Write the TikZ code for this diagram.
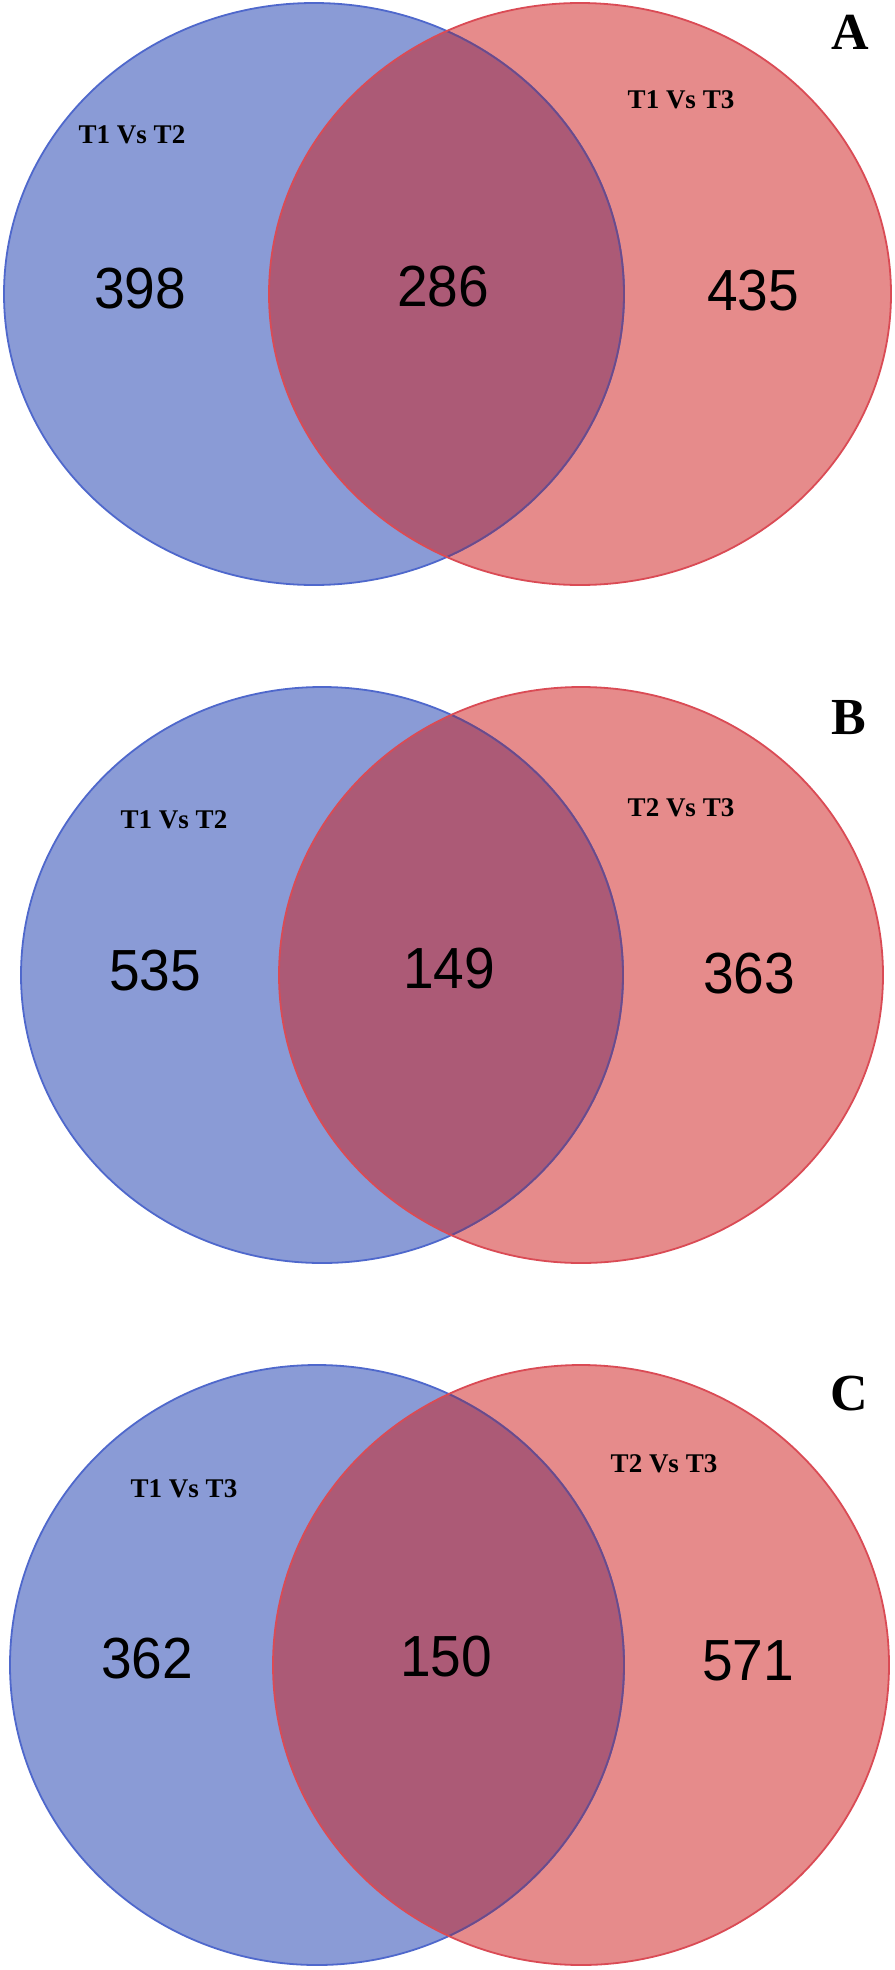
\documentclass[tikz,border=0pt]{standalone}
\usepackage{fontspec}
\setmainfont{Liberation Serif}
\newfontfamily\numfont[FakeStretch=0.95]{Liberation Sans}
\definecolor{bfill}{HTML}{8A9BD6}
\definecolor{rfill}{HTML}{E68B8B}
\definecolor{ifill}{HTML}{AC5A76}
\definecolor{bline}{HTML}{4F68CC}
\definecolor{rline}{HTML}{DA4B55}
\definecolor{iline}{HTML}{6E4A88}
\begin{document}
\begin{tikzpicture}[x=1pt,y=-1pt,
  num/.style={font=\numfont\fontsize{58}{58}\selectfont, inner sep=0pt},
  lab/.style={font=\bfseries\fontsize{27}{27}\selectfont, inner sep=0pt},
  panel/.style={font=\bfseries\fontsize{52}{52}\selectfont, inner sep=0pt},
  edge/.style={line width=1.8pt}]
\useasboundingbox (0,0) rectangle (894,1970);
\fill[white] (0,0) rectangle (894,1970);

% ---------- Panel A ----------
\fill[bfill] (314,294) ellipse [x radius=310pt, y radius=291pt];
\fill[rfill] (580,294) ellipse [x radius=311pt, y radius=291pt];
\begin{scope}
  \clip (314,294) ellipse [x radius=310pt, y radius=291pt];
  \fill[ifill] (580,294) ellipse [x radius=311pt, y radius=291pt];
\end{scope}
\draw[edge, bline] (314,294) ellipse [x radius=310pt, y radius=291pt];
\begin{scope}
  \clip (580,294) ellipse [x radius=311pt, y radius=291pt];
  \draw[edge, iline] (314,294) ellipse [x radius=310pt, y radius=291pt];
\end{scope}
\draw[edge, rline] (580,294) ellipse [x radius=311pt, y radius=291pt];
\node[num] (a1) at (140,289) {398};
\node[num] (a2) at (443,287) {286};
\node[num] (a3) at (753,291) {435};
\node[lab] (al1) at (132,135) {T1 Vs T2};
\node[lab] (al2) at (681,100) {T1 Vs T3};
\node[panel] (pa) at (850,32) {A};

% ---------- Panel B ----------
\fill[bfill] (322,975) ellipse [x radius=301pt, y radius=288pt];
\fill[rfill] (581,975) ellipse [x radius=302pt, y radius=288pt];
\begin{scope}
  \clip (322,975) ellipse [x radius=301pt, y radius=288pt];
  \fill[ifill] (581,975) ellipse [x radius=302pt, y radius=288pt];
\end{scope}
\draw[edge, bline] (322,975) ellipse [x radius=301pt, y radius=288pt];
\begin{scope}
  \clip (581,975) ellipse [x radius=302pt, y radius=288pt];
  \draw[edge, iline] (322,975) ellipse [x radius=301pt, y radius=288pt];
\end{scope}
\draw[edge, rline] (581,975) ellipse [x radius=302pt, y radius=288pt];
\node[num] (b1) at (155,971) {535};
\node[num] (b2) at (449,969) {149};
\node[num] (b3) at (749,974) {363};
\node[lab] (bl1) at (174,820) {T1 Vs T2};
\node[lab] (bl2) at (681,808) {T2 Vs T3};
\node[panel] (pb) at (849,718) {B};

% ---------- Panel C ----------
\fill[bfill] (317,1665) ellipse [x radius=307pt, y radius=300pt];
\fill[rfill] (581,1665) ellipse [x radius=308pt, y radius=300pt];
\begin{scope}
  \clip (317,1665) ellipse [x radius=307pt, y radius=300pt];
  \fill[ifill] (581,1665) ellipse [x radius=308pt, y radius=300pt];
\end{scope}
\draw[edge, bline] (317,1665) ellipse [x radius=307pt, y radius=300pt];
\begin{scope}
  \clip (581,1665) ellipse [x radius=308pt, y radius=300pt];
  \draw[edge, iline] (317,1665) ellipse [x radius=307pt, y radius=300pt];
\end{scope}
\draw[edge, rline] (581,1665) ellipse [x radius=308pt, y radius=300pt];
\node[num] (c1) at (147,1659) {362};
\node[num] (c2) at (446,1657) {150};
\node[num] (c3) at (748,1661) {571};
\node[lab] (cl1) at (184,1489) {T1 Vs T3};
\node[lab] (cl2) at (664,1464) {T2 Vs T3};
\node[panel] (pc) at (849,1394) {C};
\end{tikzpicture}
\end{document}
